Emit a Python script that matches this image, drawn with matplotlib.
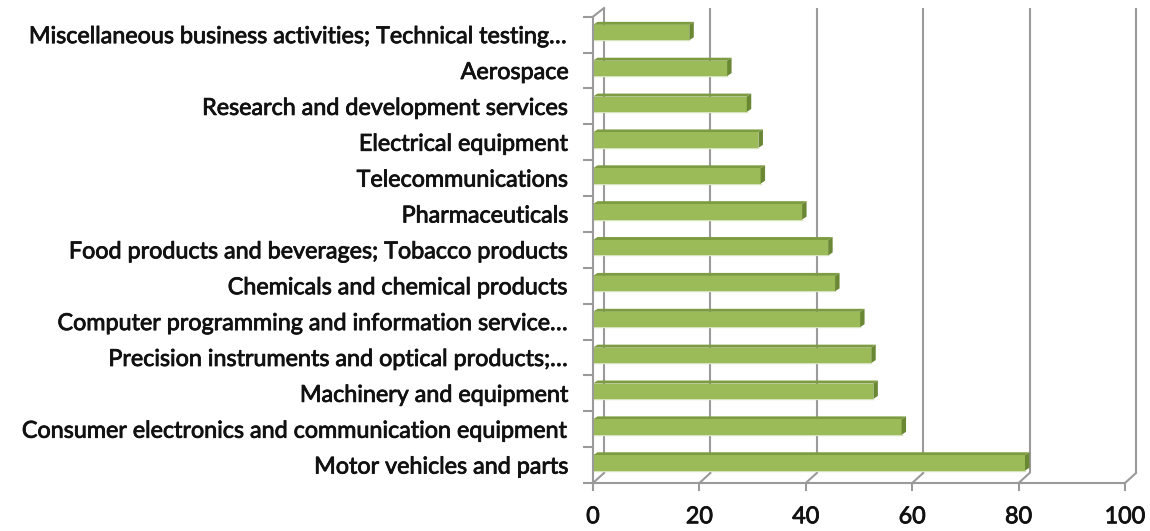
import matplotlib
matplotlib.use('Agg')
import matplotlib.pyplot as plt
import matplotlib.patheffects as pe
from matplotlib.patches import Polygon

# categories listed bottom to top
categories = [
    'Motor vehicles and parts',
    'Consumer electronics and communication equipment',
    'Machinery and equipment',
    'Precision instruments and optical products;\u2026',
    'Computer programming and information service\u2026',
    'Chemicals and chemical products',
    'Food products and beverages; Tobacco products',
    'Pharmaceuticals',
    'Telecommunications',
    'Electrical equipment',
    'Research and development services',
    'Aerospace',
    'Miscellaneous business activities; Technical testing\u2026',
]
values = [81.2, 58.0, 52.7, 52.3, 50.2, 45.5, 44.2, 39.3, 31.5, 31.1, 28.9, 25.2, 18.1]
xticks = [0, 20, 40, 60, 80, 100]

W, H = 1150, 531
fig = plt.figure(figsize=(W / 100, H / 100), dpi=100)
ax = fig.add_axes([593 / W, 1 - 483 / H, 532 / W, 466.3 / H])
ax.set_xlim(0, 100)
ax.set_ylim(-0.5, len(categories) - 0.5)

px_x = 532 / 100.0       # pixels per x unit
px_y = 466.3 / len(categories)  # pixels per category

grid_c = '#9a9a9a'
lw = 1.5
# 3d wall offset
dxb = 11 / px_x
dyb = 10 / px_y
top_front = len(categories) - 0.5
top_back = top_front + 8.7 / px_y

# back wall gridlines and floor connectors
for t in xticks:
    ax.plot([t + dxb, t + dxb], [-0.5 + dyb, top_back], color=grid_c, lw=lw,
            clip_on=False, zorder=1, solid_capstyle='butt')
    ax.plot([t, t + dxb], [-0.5, -0.5 + dyb], color=grid_c, lw=lw,
            clip_on=False, zorder=1)
# front floor edge and front left axis
ax.plot([0, 100], [-0.5, -0.5], color=grid_c, lw=lw, clip_on=False, zorder=5)
ax.plot([0, 0], [-0.5, top_front], color=grid_c, lw=lw, clip_on=False, zorder=5)
ax.plot([0, dxb], [top_front, top_back], color=grid_c, lw=lw, clip_on=False, zorder=5)

# bars: front face via barh, top and side faces from the same geometry
front = '#9BBB59'
top_c = '#7D9C42'
side_c = '#6A8834'
ds = 4.5 / px_x
dt = 3 / px_y
lo = -5.6 / px_y
hi = 9.8 / px_y
pos = list(range(len(categories)))
bars = ax.barh([p + (lo + hi) / 2 for p in pos], values, height=hi - lo,
               color=front, edgecolor='none', zorder=3)
for rect in bars:
    x0 = rect.get_x()
    x1 = x0 + rect.get_width()
    y0 = rect.get_y()
    y1 = y0 + rect.get_height()
    ax.add_patch(Polygon([(x0, y1), (x1, y1), (x1 + ds, y1 + dt), (x0 + ds, y1 + dt)],
                         closed=True, fc=top_c, ec='none', zorder=2))
    ax.add_patch(Polygon([(x1, y0), (x1, y1), (x1 + ds, y1 + dt), (x1 + ds, y0 + dt)],
                         closed=True, fc=side_c, ec='none', zorder=4))
    ax.plot([x0, x1], [y0, y0], color='#d6e3bc', lw=1, zorder=2)

for s in ax.spines.values():
    s.set_visible(False)

ax.set_yticks(pos)
ax.set_yticklabels(categories)
ax.set_yticks([p + 0.5 for p in pos[:-1]] + [-0.5, top_front], minor=True)
ax.tick_params(axis='y', which='major', length=0, pad=24 * 0.72)
ax.tick_params(axis='y', which='minor', length=10 * 0.72, width=lw, color=grid_c)
ax.set_xticks(xticks)
ax.tick_params(axis='x', length=8 * 0.72, width=lw, color=grid_c, pad=11)

# slightly heavier text, like the blurred Calibri of the original
heavy = [pe.withStroke(linewidth=0.6, foreground='#111111')]
for lab in ax.get_yticklabels() + ax.get_xticklabels():
    lab.set_fontfamily(['Lato', 'DejaVu Sans'])
    lab.set_fontsize(16.8)
    lab.set_color('#111111')
    lab.set_path_effects(heavy)

fig.savefig('out.png', dpi=100)
